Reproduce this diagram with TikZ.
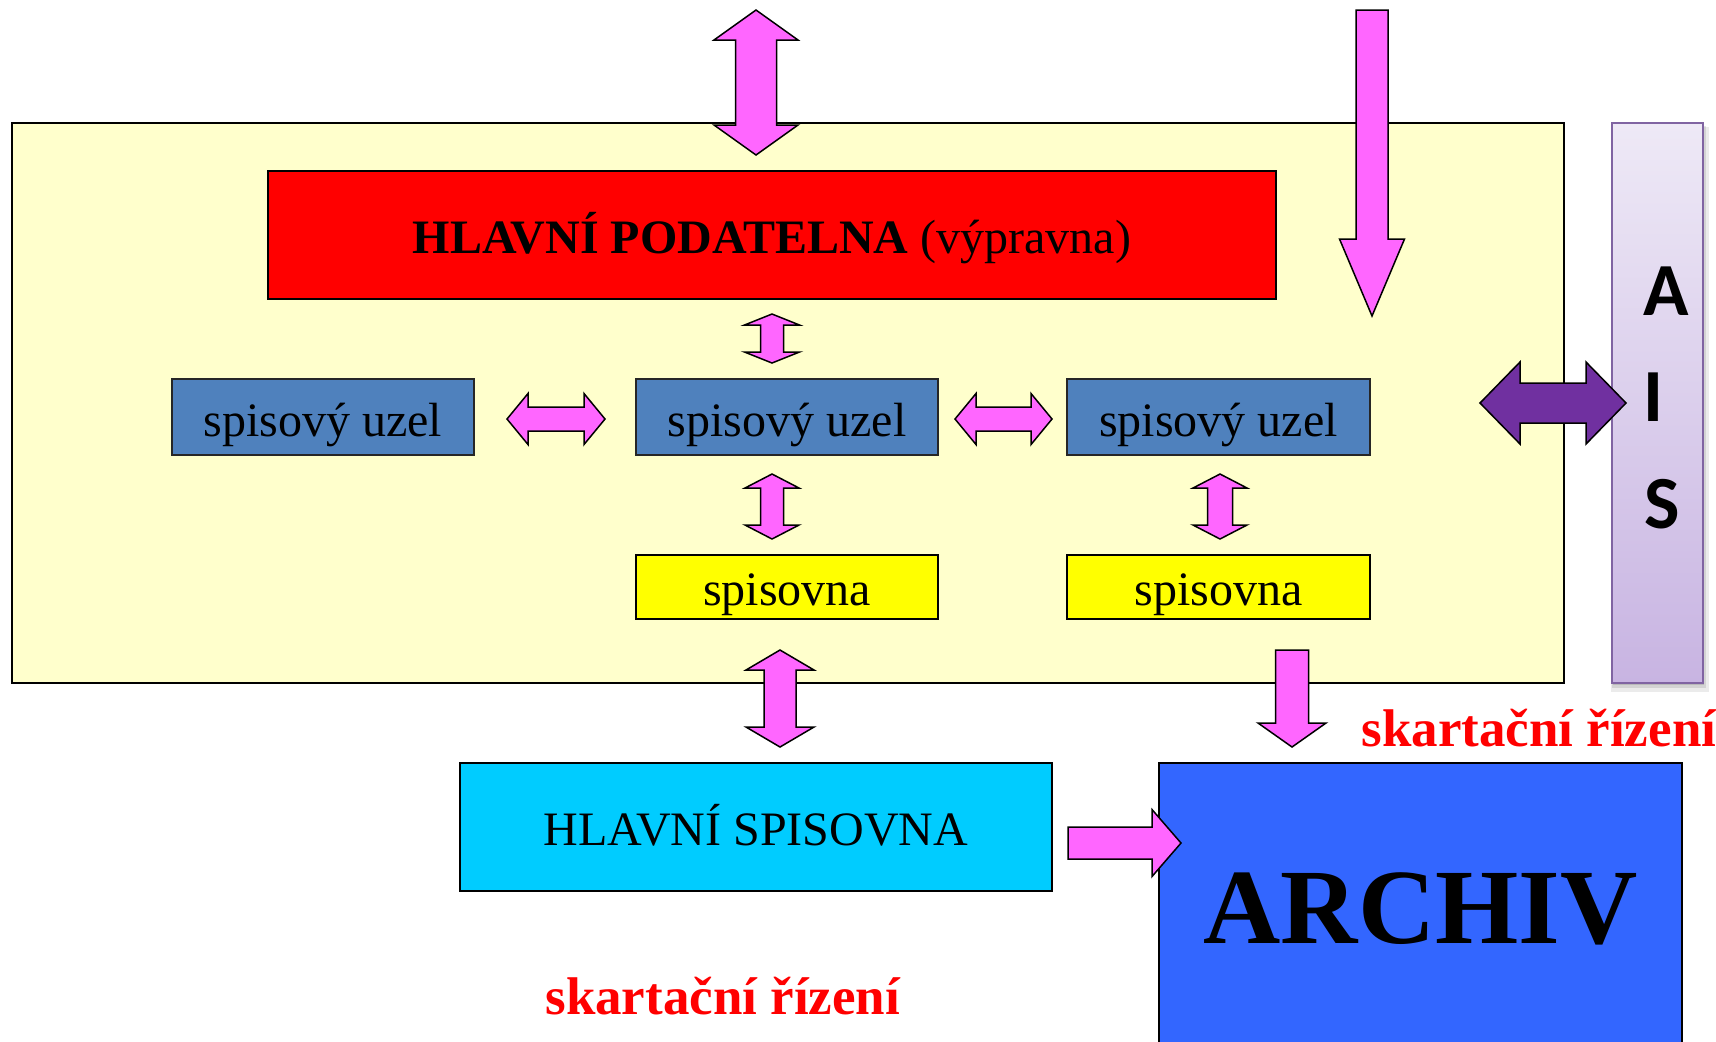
\documentclass[tikz,border=0pt]{standalone}
\usepackage{fontspec}
\setmainfont{Liberation Serif}
\newfontfamily\aisfont{Carlito}
\definecolor{bgyellow}{HTML}{FFFFCC}
\definecolor{uzelblue}{HTML}{4F81BD}
\definecolor{spisyellow}{HTML}{FFFF00}
\definecolor{hlcyan}{HTML}{00CCFF}
\definecolor{archblue}{HTML}{3366FF}
\definecolor{arrpink}{HTML}{FF66FF}
\definecolor{aispurple}{HTML}{7030A0}
\definecolor{aisborder}{HTML}{8064A2}
\definecolor{aistop}{HTML}{EEE9F6}
\definecolor{aisbot}{HTML}{C8B4E2}
\tikzset{
  box/.style={draw=black, line width=1.1pt, inner sep=0pt, outer sep=0pt},
  pinkarr/.style={fill=arrpink, draw=black, line width=0.75pt, line join=miter},
  purparr/.style={fill=aispurple, draw=black, line width=0.75pt, line join=miter},
  txt47/.style={font=\fontsize{24}{26}\selectfont, text height=19pt, text depth=1pt},
  skart/.style={font=\fontsize{26.5}{30}\selectfont\bfseries, text=red, anchor=base west, inner sep=0pt},
  aisletter/.style={font=\fontsize{37.5}{40}\selectfont\aisfont\bfseries, anchor=base, inner sep=0pt},
}
% vertical double block arrow: x, ytop, ybot, shaft half, head half, head length
\newcommand{\dblV}[6]{%
  \filldraw[pinkarr] (#1,#2) -- ({#1+#5},{#2+#6}) -- ({#1+#4},{#2+#6}) -- ({#1+#4},{#3-#6}) -- ({#1+#5},{#3-#6}) -- (#1,#3) -- ({#1-#5},{#3-#6}) -- ({#1-#4},{#3-#6}) -- ({#1-#4},{#2+#6}) -- ({#1-#5},{#2+#6}) -- cycle;}
% horizontal double block arrow: style, y, xleft, xright, shaft half, head half, head length
\newcommand{\dblH}[7]{%
  \filldraw[#1] (#3,#2) -- ({#3+#7},{#2-#6}) -- ({#3+#7},{#2-#5}) -- ({#4-#7},{#2-#5}) -- ({#4-#7},{#2-#6}) -- (#4,#2) -- ({#4-#7},{#2+#6}) -- ({#4-#7},{#2+#5}) -- ({#3+#7},{#2+#5}) -- ({#3+#7},{#2+#6}) -- cycle;}
% single down block arrow: x, ytop, ytip, shaft half, head half, head length
\newcommand{\sglD}[6]{%
  \filldraw[pinkarr] ({#1-#4},#2) -- ({#1+#4},#2) -- ({#1+#4},{#3-#6}) -- ({#1+#5},{#3-#6}) -- (#1,#3) -- ({#1-#5},{#3-#6}) -- ({#1-#4},{#3-#6}) -- cycle;}
% single right block arrow: y, xleft, xtip, shaft half, head half, head length
\newcommand{\sglR}[6]{%
  \filldraw[pinkarr] (#2,{#1-#4}) -- ({#3-#6},{#1-#4}) -- ({#3-#6},{#1-#5}) -- (#3,#1) -- ({#3-#6},{#1+#5}) -- ({#3-#6},{#1+#4}) -- (#2,{#1+#4}) -- cycle;}
\begin{document}
\begin{tikzpicture}[x=0.5pt,y=-0.5pt]
\clip (0,0) rectangle (1716,1041);
\fill[white] (0,0) rectangle (1716,1041);

% main office area
\node[box, line width=1.25pt, fill=bgyellow, minimum width=776pt, minimum height=280pt] (urad) at (788,403) {};

% boxes
\node[box, fill=red, minimum width=504pt, minimum height=64pt, font=\fontsize{24}{28}\selectfont, text height=19pt, text depth=1pt] (podatelna) at (772,235) {\textbf{HLAVNÍ PODATELNA} (výpravna)};
\node[box, draw=black!85, fill=uzelblue, minimum width=151pt, minimum height=38pt, txt47, text height=20pt] (uzelA) at (323,417) {spisový uzel};
\node[box, draw=black!85, fill=uzelblue, minimum width=151pt, minimum height=38pt, txt47, text height=20pt] (uzelB) at (787,417) {spisový uzel};
\node[box, draw=black!85, fill=uzelblue, minimum width=151.5pt, minimum height=38pt, txt47, text height=20pt] (uzelC) at (1218.5,417) {spisový uzel};
\node[box, fill=spisyellow, minimum width=151pt, minimum height=32pt, txt47] (spisB) at (787,587) {spisovna};
\node[box, fill=spisyellow, minimum width=151.5pt, minimum height=32pt, txt47] (spisC) at (1218.5,587) {spisovna};
\node[box, fill=hlcyan, minimum width=296pt, minimum height=64pt, txt47] (hlspis) at (756,827) {HLAVNÍ SPISOVNA};
\node[box, fill=archblue, minimum width=261.5pt, minimum height=143.5pt, font=\fontsize{53.5}{56}\selectfont\bfseries, text height=37pt, text depth=0.5pt] (archiv) at (1420.5,906.5) {ARCHIV};

% AIS column
\fill[black, opacity=0.08] (1611,127) rectangle (1709,692);
\fill[black, opacity=0.10] (1612,126) rectangle (1706,688);
\fill[black, opacity=0.12] (1613,125) rectangle (1704,685);
\node[draw=aisborder, line width=0.9pt, top color=aistop, bottom color=aisbot, minimum width=45.5pt, minimum height=280pt, inner sep=0pt, outer sep=0pt] (ais) at (1657.5,403) {};
\node[aisletter] (aisA) at (1666,315) {A};
\node[aisletter] (aisI) at (1653,421) {I};
\node[aisletter] (aisS) at (1662,528) {S};

% block arrows
\dblV{756}{10}{155}{20.5}{42}{30}
\sglD{1372}{10}{316}{16}{32.5}{77}
\dblV{772}{314}{363}{11.5}{27.5}{11}
\dblV{772}{474}{539}{11.5}{27}{14}
\dblV{1220}{474}{539}{12.5}{27}{14}
\dblH{pinkarr}{419}{507}{605}{12}{25.5}{21}
\dblH{pinkarr}{419}{955}{1052}{12}{25.5}{21}
\dblH{purparr}{403}{1480}{1626}{20}{41}{40}
\dblV{780}{650}{747}{16}{34}{20}
\sglD{1292}{650}{747}{16.5}{34}{24}
\sglR{843}{1068}{1181}{16}{33.5}{29}

% labels
\node[skart] (skartR) at (1361,746) {skartační řízení};
\node[skart] (skartB) at (545,1014) {skartační řízení};
\end{tikzpicture}
\end{document}
